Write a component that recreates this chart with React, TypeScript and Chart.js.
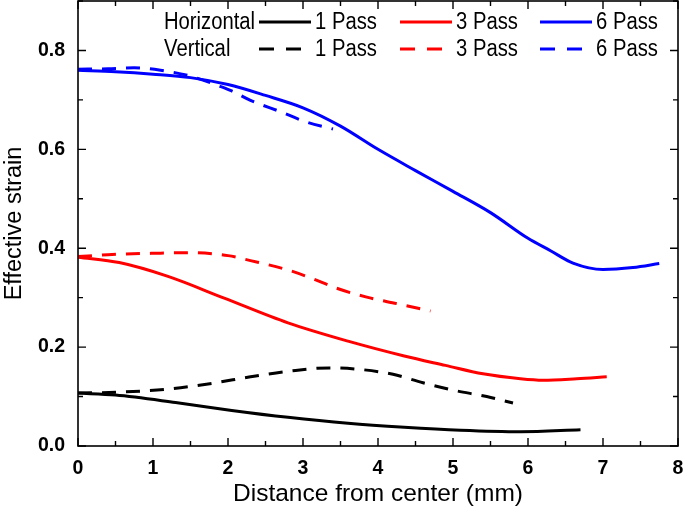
import React, { useEffect, useRef } from "react";
import { Chart, registerables } from "chart.js";
Chart.register(...registerables);

// Horizontal measurements
const h1X = [0, 0.5, 1.3, 2.05, 2.8, 3.6, 4.35, 5.1, 5.9, 6.7];
const h1Y = [0.107, 0.103, 0.088, 0.072, 0.058, 0.046, 0.038, 0.032, 0.029, 0.033];
const h3X = [0, 0.55, 1.2, 1.95, 2.8, 3.6, 4.35, 4.9, 5.4, 5.9, 6.2, 6.65, 7.05];
const h3Y = [0.382, 0.371, 0.343, 0.299, 0.249, 0.212, 0.182, 0.163, 0.146, 0.136, 0.133, 0.136, 0.14];
const h6X = [0, 0.5, 1, 1.5, 2, 2.5, 3, 3.5, 4, 4.5, 5, 5.5, 6, 6.3, 6.6, 7.0, 7.4, 7.75];
const h6Y = [0.76, 0.757, 0.752, 0.745, 0.731, 0.709, 0.684, 0.647, 0.6, 0.557, 0.515, 0.472, 0.42, 0.395, 0.37, 0.357, 0.361, 0.369];

// Vertical measurements
const v1X = [0, 0.55, 1.2, 1.8, 2.3, 2.85, 3.35, 3.75, 4.2, 4.6, 5.0, 5.45, 5.8];
const v1Y = [0.107, 0.109, 0.115, 0.127, 0.14, 0.152, 0.158, 0.155, 0.145, 0.128, 0.113, 0.1, 0.087];
const v3X = [0, 0.4, 1.1, 1.5, 2.0, 2.3, 2.8, 3.1, 3.45, 3.85, 4.25, 4.7];
const v3Y = [0.383, 0.387, 0.39, 0.391, 0.385, 0.375, 0.356, 0.34, 0.319, 0.301, 0.288, 0.273];
const v6X = [0, 0.4, 0.75, 1.1, 1.5, 1.9, 2.05, 2.3, 2.7, 3.05, 3.4];
const v6Y = [0.762, 0.763, 0.765, 0.76, 0.748, 0.727, 0.718, 0.699, 0.676, 0.655, 0.641];

const xTicks = [0, 1, 2, 3, 4, 5, 6, 7, 8];
const yTicks = [0, 0.2, 0.4, 0.6, 0.8];
const rowLabels = ["Horizontal", "Vertical"];
const passLabels = ["1 Pass", "3 Pass", "6 Pass"];
const colors = ["#000000", "#ff0000", "#0000ff"];
const xTitle = "Distance from center (mm)";
const yTitle = "Effective strain";

const FONT = "'Liberation Sans', Arial, sans-serif";
const DASH = [14, 10];

const pts = (xs: number[], ys: number[]) => xs.map((x, i) => ({ x, y: ys[i] }));

const framePlugin = {
  id: "frameTicks",
  afterDatasetsDraw(chart: any) {
    const { ctx, chartArea: a, scales } = chart;
    const xs = scales.x, ys = scales.y;
    ctx.save();
    ctx.strokeStyle = "#000";
    ctx.lineWidth = 1.6;
    ctx.strokeRect(a.left, a.top, a.right - a.left, a.bottom - a.top);
    ctx.lineWidth = 1.4;
    ctx.beginPath();
    for (let v = 0; v <= 8.0001; v += 0.5) {
      const px = xs.getPixelForValue(v);
      const len = Math.abs(v - Math.round(v)) < 1e-6 ? 8 : 5;
      ctx.moveTo(px, a.bottom);
      ctx.lineTo(px, a.bottom - len);
      ctx.moveTo(px, a.top);
      ctx.lineTo(px, a.top + len);
    }
    for (let k = 0; k <= 9; k++) {
      const v = k / 10;
      const py = ys.getPixelForValue(v);
      const len = k % 2 === 0 ? 8 : 5;
      ctx.moveTo(a.left, py);
      ctx.lineTo(a.left + len, py);
      ctx.moveTo(a.right, py);
      ctx.lineTo(a.right - len, py);
    }
    ctx.stroke();

    // legend
    ctx.fillStyle = "#000";
    ctx.textBaseline = "middle";
    ctx.textAlign = "left";
    const rowsY = [22, 49];
    const lineStarts = [259, 400, 540];
    const textAt = (s: string, x: number, y: number) => {
      ctx.save();
      ctx.translate(x, y);
      ctx.scale(0.88, 1);
      ctx.font = `23px ${FONT}`;
      ctx.fillText(s, 0, 0);
      ctx.restore();
    };
    rowLabels.forEach((lab, r) => {
      const y = rowsY[r];
      textAt(lab, 164, y + 1);
      passLabels.forEach((p, i) => {
        const x0 = lineStarts[i];
        ctx.save();
        ctx.strokeStyle = colors[i];
        ctx.lineWidth = 3;
        ctx.setLineDash(r === 0 ? [] : [15, 12]);
        ctx.beginPath();
        ctx.moveTo(x0, y);
        ctx.lineTo(x0 + 52, y);
        ctx.stroke();
        ctx.restore();
        textAt(p, x0 + 56, y + 1);
      });
    });
    ctx.restore();
  },
};

export default function App() {
  const ref = useRef<HTMLCanvasElement>(null);
  useEffect(() => {
    if (!ref.current) return;
    const mk = (xs: number[], ys: number[], i: number, dashed: boolean) => ({
      data: pts(xs, ys),
      borderColor: colors[i],
      backgroundColor: colors[i],
      borderWidth: 3,
      borderDash: dashed ? DASH : [],
      pointRadius: 0,
      tension: 0.4,
      cubicInterpolationMode: "monotone" as const,
      fill: false,
    });
    const chart = new Chart(ref.current, {
      type: "line",
      data: {
        datasets: [
          mk(h1X, h1Y, 0, false),
          mk(h3X, h3Y, 1, false),
          mk(h6X, h6Y, 2, false),
          mk(v1X, v1Y, 0, true),
          mk(v3X, v3Y, 1, true),
          mk(v6X, v6Y, 2, true),
        ],
      },
      options: {
        animation: false,
        responsive: false,
        devicePixelRatio: 1,
        layout: { padding: { top: 1, right: 7, left: 0, bottom: 0 } },
        plugins: { legend: { display: false }, tooltip: { enabled: false } },
        scales: {
          x: {
            type: "linear",
            min: 0,
            max: 8,
            afterBuildTicks: (s: any) => {
              s.ticks = xTicks.map((v) => ({ value: v }));
            },
            afterFit: (s: any) => {
              s.height = 71;
              s.paddingLeft = 0;
              s.paddingRight = 0;
            },
            grid: { display: false, drawTicks: false },
            border: { display: false },
            ticks: {
              padding: 11,
              color: "#000",
              font: { family: FONT, size: 19.5, weight: "bold" },
              maxRotation: 0,
              callback: (v: any) => String(v),
            },
            title: {
              display: true,
              text: xTitle,
              color: "#000",
              font: { family: FONT, size: 24.5 },
              padding: { top: 2, bottom: 8 },
            },
          },
          y: {
            type: "linear",
            min: 0,
            max: 0.9,
            afterBuildTicks: (s: any) => {
              s.ticks = yTicks.map((v) => ({ value: v }));
            },
            afterFit: (s: any) => {
              s.width = 78;
              s.paddingTop = 0;
              s.paddingBottom = 0;
            },
            grid: { display: false, drawTicks: false },
            border: { display: false },
            ticks: {
              padding: 13,
              color: "#000",
              font: { family: FONT, size: 19.5, weight: "bold" },
              callback: (v: any) => Number(v).toFixed(1),
            },
            title: {
              display: true,
              text: yTitle,
              color: "#000",
              font: { family: FONT, size: 23.5 },
              padding: { top: 0, bottom: 0 },
            },
          },
        },
      },
      plugins: [framePlugin],
    });
    return () => chart.destroy();
  }, []);
  return (
    <div style={{ position: "fixed", left: 0, top: 0, width: 685, height: 517, background: "#fff" }}>
      <canvas ref={ref} width={685} height={517} style={{ width: 685, height: 517, display: "block" }} />
    </div>
  );
}
